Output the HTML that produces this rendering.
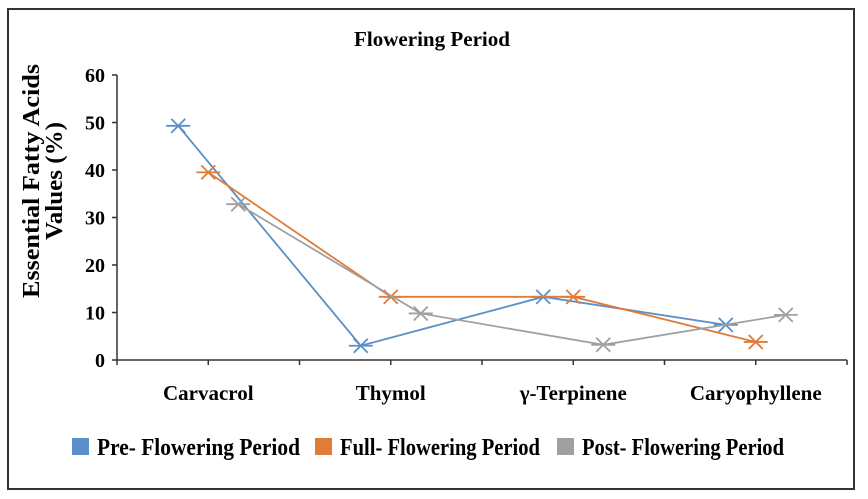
<!DOCTYPE html>
<html><head><meta charset="utf-8">
<style>
body{margin:0;background:#fff;}
svg{display:block;font-family:"Liberation Serif",serif;font-weight:bold;}
</style></head>
<body>
<svg width="868" height="499">
<rect x="8" y="9" width="846" height="480" fill="#fff" stroke="#333" stroke-width="2"/>
<text x="432" y="46" font-size="21" text-anchor="middle" textLength="156" lengthAdjust="spacingAndGlyphs">Flowering Period</text>
<text transform="translate(43,181) rotate(-90)" font-size="24" text-anchor="middle"><tspan x="0" y="-4" textLength="234" lengthAdjust="spacingAndGlyphs">Essential Fatty Acids</tspan><tspan x="0" y="19" textLength="118" lengthAdjust="spacingAndGlyphs">Values (%)</tspan></text>
<g id="axes"></g>
<g id="series"></g>
<g id="legend"></g>
</svg>
<script>
const categories=["Carvacrol","Thymol","γ-Terpinene","Caryophyllene"];
const seriesNames=["Pre- Flowering Period","Full- Flowering Period","Post- Flowering Period"];
const preValues=[49.3,3,13.3,7.4];
const fullValues=[39.5,13.3,13.3,3.8];
const postValues=[32.8,9.8,3.2,9.5];
const yTicks=[0,10,20,30,40,50,60];
const colors=["#5b8fc7","#e07b39","#a0a0a0"];
const NS="http://www.w3.org/2000/svg";
const x0=117,x1=847,y0=360,y1=75;
const cw=(x1-x0)/categories.length;
function yS(v){return y0-(v/60)*(y0-y1);}
function xS(i,s){return x0+cw*(i+0.5)+(s-1)*30;}
function mk(tag,attrs,parent){const e=document.createElementNS(NS,tag);for(const k in attrs)e.setAttribute(k,attrs[k]);parent.appendChild(e);return e;}
const ax=document.getElementById('axes');
let l=mk('line',{x1:x0,y1:y1,x2:x0,y2:y0,stroke:'#333','stroke-width':1.5},ax);


l=mk('line',{x1:x0,y1:y0,x2:x1,y2:y0,stroke:'#333','stroke-width':1.5},ax);


yTicks.forEach(v=>{
  mk('line',{x1:x0-5,y1:yS(v),x2:x0,y2:yS(v),stroke:'#333','stroke-width':1.5},ax);
  const t=mk('text',{x:x0-12,y:yS(v)+7,'font-size':20,'text-anchor':'end'},ax);
  t.textContent=v;
  
  
});
for(let i=0;i<=categories.length*2;i++){
  const x=x0+cw*i/2;
  mk('line',{x1:x,y1:y0,x2:x,y2:y0+5,stroke:'#333','stroke-width':1.5},ax);
}
categories.forEach((c,i)=>{
  const t=mk('text',{x:xS(i,1),y:400,'font-size':21,'text-anchor':'middle'},ax);
  t.textContent=c;
  
  
});
const sg=document.getElementById('series');
[preValues,fullValues,postValues].forEach((vals,s)=>{
  const g=mk('g',{},sg);
  
  
  const pts=vals.map((v,i)=>xS(i,s)+','+yS(v)).join(' ');
  mk('polyline',{points:pts,fill:'none',stroke:colors[s],'stroke-width':1.8},g);
  vals.forEach((v,i)=>{
    const x=xS(i,s),y=yS(v);
    const m=mk('path',{d:`M${x-12},${y}H${x+12}M${x-7},${y-7}L${x+7},${y+7}M${x-7},${y+7}L${x+7},${y-7}`,stroke:colors[s],'stroke-width':1.8,fill:'none'},g);
    
    
  });
});
const lg=document.getElementById('legend');
const lx=[72,315,557];
const lw=[203,200,202];
seriesNames.forEach((n,s)=>{
  const g=mk('g',{},lg);
  
  
  mk('rect',{x:lx[s],y:438,width:17,height:17,fill:colors[s]},g);
  const t=mk('text',{x:lx[s]+25,y:455,'font-size':24,textLength:lw[s],lengthAdjust:'spacingAndGlyphs'},g);
  t.textContent=n;
});
</script>
</body></html>
